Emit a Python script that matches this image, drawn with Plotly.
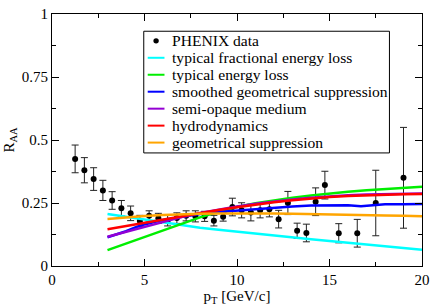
import plotly.graph_objects as go

# PHENIX data
pt_data = [1.25, 1.75, 2.25, 2.75, 3.25, 3.75, 4.25, 4.75, 5.25, 5.75, 6.25, 6.75,
           7.25, 7.75, 8.25, 8.75, 9.25, 9.75, 10.25, 10.75, 11.25, 11.75, 12.25,
           12.75, 13.25, 13.75, 14.25, 14.75, 15.5, 16.5, 17.5, 19.0]
raa_data = [0.425, 0.38, 0.345, 0.30, 0.26, 0.229, 0.209, 0.179, 0.199, 0.189, 0.18, 0.19,
            0.199, 0.197, 0.197, 0.18, 0.195, 0.234, 0.221, 0.212, 0.221, 0.225, 0.186,
            0.25, 0.14, 0.131, 0.255, 0.321, 0.13, 0.13, 0.25, 0.35]
raa_err = [0.055, 0.05, 0.045, 0.04, 0.035, 0.031, 0.029, 0.022, 0.02, 0.02, 0.021, 0.021,
           0.02, 0.022, 0.02, 0.021, 0.017, 0.035, 0.03, 0.033, 0.03, 0.03, 0.035,
           0.046, 0.03, 0.035, 0.055, 0.055, 0.038, 0.055, 0.13, 0.2]

pt_model = [3, 4, 5, 6, 7, 8, 9, 10, 11, 12, 13, 14, 15, 16, 17, 18, 19, 20]
frac_loss = [0.206, 0.195, 0.184, 0.172, 0.161, 0.152, 0.144, 0.136, 0.128, 0.121, 0.113,
             0.106, 0.099, 0.092, 0.085, 0.078, 0.071, 0.064]
energy_loss = [0.063, 0.089, 0.115, 0.141, 0.166, 0.193, 0.215, 0.234, 0.249, 0.261, 0.271,
               0.28, 0.288, 0.295, 0.301, 0.306, 0.31, 0.314]
pt_smooth = [3, 4, 4.6, 5, 6, 7, 8, 9, 10, 11, 12, 13, 14, 15, 16, 16.7, 17.5, 18, 19, 20]
smooth_geo = [0.114, 0.138, 0.156, 0.165, 0.183, 0.196, 0.206, 0.214, 0.22, 0.226, 0.231,
              0.236, 0.24, 0.242, 0.241, 0.237, 0.243, 0.245, 0.245, 0.246]
semi_opaque = [0.116, 0.136, 0.156, 0.175, 0.194, 0.21, 0.224, 0.236, 0.247, 0.256, 0.264,
               0.271, 0.277, 0.281, 0.284, 0.286, 0.287, 0.288]
hydro = [0.146, 0.159, 0.172, 0.185, 0.198, 0.21, 0.222, 0.233, 0.244, 0.253, 0.261,
         0.268, 0.274, 0.278, 0.281, 0.283, 0.285, 0.286]
geo_supp = [0.187, 0.193, 0.198, 0.202, 0.205, 0.207, 0.208, 0.209, 0.209, 0.208, 0.207,
            0.205, 0.203, 0.202, 0.201, 0.2, 0.199, 0.197]

data_name = "PHENIX data"
model_names = ["typical fractional energy loss", "typical energy loss",
               "smoothed geometrical suppression", "semi-opaque medium",
               "hydrodynamics", "geometrical suppression"]
model_colors = ["#00FFFF", "#00EE00", "#0000FF", "#9400D3", "#FF0000", "#FFA500"]
model_x = [pt_model, pt_model, pt_smooth, pt_model, pt_model, pt_model]
model_y = [frac_loss, energy_loss, smooth_geo, semi_opaque, hydro, geo_supp]

W, H = 436, 306
ML, MR, MT, MB = 52, 9, 6, 37
PW, PH = W - ML - MR, H - MT - MB

def px(xp):
    return (xp - ML) / PW

def py(yp):
    return (H - MB - yp) / PH

font = "Liberation Serif, Times New Roman, serif"
legend_font = dict(family=font, size=15.6, color="black")

fig = go.Figure()
fig.add_trace(go.Scatter(
    x=pt_data, y=raa_data, mode="markers", name=data_name,
    marker=dict(color="black", size=6),
    error_y=dict(type="data", array=raa_err, color="#222222", thickness=1, width=3.5),
))
for name, xs, ys, col in zip(model_names, model_x, model_y, model_colors):
    fig.add_trace(go.Scatter(x=xs, y=ys, mode="lines", name=name,
                             line=dict(color=col, width=2.5)))

# hand-drawn legend box (xmgrace style, compact rows)
shapes = [dict(type="rect", xref="paper", yref="paper",
               x0=px(145), x1=px(394), y0=py(151), y1=py(24),
               line=dict(color="black", width=1), fillcolor="white", layer="above")]
annotations = []
row0, step = 34, 17.7
shapes.append(dict(type="circle", xref="paper", yref="paper", xsizemode="pixel",
                   ysizemode="pixel", xanchor=px(157.5), yanchor=py(row0),
                   x0=-2.7, x1=2.7, y0=-2.7, y1=2.7,
                   fillcolor="black", line=dict(color="black", width=0), layer="above"))
annotations.append(dict(text=data_name, xref="paper", yref="paper", x=px(172), y=py(row0),
                        xanchor="left", yanchor="middle", showarrow=False,
                        font=legend_font))
for i, (name, col) in enumerate(zip(model_names, model_colors)):
    yy = row0 + step * (i + 1)
    shapes.append(dict(type="line", xref="paper", yref="paper",
                       x0=px(149), x1=px(166), y0=py(yy), y1=py(yy),
                       line=dict(color=col, width=2), layer="above"))
    annotations.append(dict(text=name, xref="paper", yref="paper", x=px(172), y=py(yy),
                            xanchor="left", yanchor="middle", showarrow=False,
                            font=legend_font))

axis_common = dict(
    showline=True, linecolor="black", linewidth=1, mirror="ticks",
    ticks="inside", ticklen=7, tickcolor="black", tickwidth=1,
    showgrid=False, zeroline=False, ticklabeloverflow="allow",
    tickfont=dict(family=font, size=15, color="black"),
)
fig.update_xaxes(range=[0, 20], tick0=0, dtick=5,
                 minor=dict(dtick=2.5, ticks="inside", ticklen=4, tickcolor="black"),
                 title=dict(text="p<sub>T</sub> [GeV/c]", font=dict(family=font, size=15, color="black"),
                            standoff=1),
                 **axis_common)
fig.update_yaxes(range=[0, 1], tick0=0, dtick=0.25,
                 minor=dict(dtick=0.125, ticks="inside", ticklen=4, tickcolor="black"),
                 title=dict(text="R<sub>AA</sub>", font=dict(family=font, size=15, color="black"),
                            standoff=3),
                 **axis_common)
fig.update_layout(
    width=W, height=H,
    margin=dict(l=ML, r=MR, t=MT, b=MB),
    paper_bgcolor="white", plot_bgcolor="white",
    font=dict(family=font, size=15, color="black"),
    showlegend=False, hovermode=False,
    shapes=shapes, annotations=annotations,
)
fig.write_html("out.html", config={"displayModeBar": False, "staticPlot": True},
               post_script="document.body.style.margin='0';document.body.style.overflow='hidden';")
